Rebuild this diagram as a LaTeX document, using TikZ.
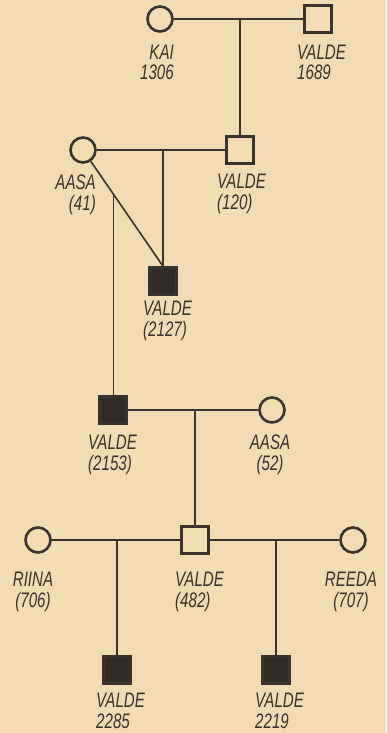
\documentclass[tikz,border=0pt]{standalone}
\usepackage{fontspec}
\newfontfamily\lblfont{Liberation Sans}[FakeStretch=0.72]
\usetikzlibrary{calc}
\definecolor{bg}{RGB}{243,219,180}
\definecolor{ink}{RGB}{58,50,44}
\definecolor{dark}{RGB}{48,43,38}
\begin{document}
\begin{tikzpicture}[x=1pt,y=-1pt,
  fem/.style={circle,draw=ink,line width=2.6pt,minimum size=25pt,inner sep=0pt},
  mal/.style={rectangle,draw=ink,line width=2.6pt,minimum size=27pt,inner sep=0pt},
  aff/.style={mal,fill=dark},
  lbl/.style={text=ink,font=\lblfont\itshape\fontsize{21}{20.5}\selectfont,inner sep=0pt},
  ln/.style={draw=ink,line width=1.6pt}]
\fill[bg] (0,0) rectangle (386,733);
\useasboundingbox (0,0) rectangle (386,733);
% symbols
\node[fem] (kai) at (160,19) {};
\node[mal] (v1689) at (318,19) {};
\node[mal] (v120) at (240,150) {};
\node[fem] (a41) at (83,150) {};
\node[aff] (v2127) at (163,281) {};
\node[aff] (v2153) at (113,410) {};
\node[fem] (a52) at (272,410) {};
\node[fem] (r706) at (38,540) {};
\node[mal] (v482) at (195,540) {};
\node[fem] (r707) at (353,540) {};
\node[aff] (v2285) at (117,670) {};
\node[aff] (v2219) at (276,670) {};
% connectors
\draw[ln] (kai) -- (v1689);
\draw[ln] (v120.north |- kai) -- (v120.north);
\draw[ln] (a41) -- (v120);
\draw[ln] (v2127.north |- a41) -- (v2127.north);
\draw[ln] (a41) -- (v2127.north);
\coordinate (d) at ($(a41)!0.38!(v2127.north)$);
\draw[ln] (d) -- (d |- v2153.north);
\draw[ln] (v2153) -- (a52);
\draw[ln] (v482.north |- v2153) -- (v482.north);
\draw[ln] (r706) -- (v482);
\draw[ln] (v482) -- (r707);
\draw[ln] (v2285.north |- r706) -- (v2285.north);
\draw[ln] (v2219.north |- r707) -- (v2219.north);
% labels (base anchor = baseline of last line)
\node[lbl,anchor=base east,align=right] (t1) at (174,80) {KAI\\1306};
\node[lbl,anchor=base west,align=left] (t2) at (297,80) {VALDE\\1689};
\node[lbl,anchor=base east,align=right] (t3) at (96,210) {AASA\\(41)};
\node[lbl,anchor=base west,align=left] (t4) at (217,209) {VALDE\\(120)};
\node[lbl,anchor=base west,align=left] (t5) at (143,336) {VALDE\\(2127)};
\node[lbl,anchor=base west,align=left] (t6) at (88,470) {VALDE\\(2153)};
\node[lbl,anchor=base,align=center] (t7) at (270,470) {AASA\\(52)};
\node[lbl,anchor=base,align=center] (t8) at (33,607) {RIINA\\(706)};
\node[lbl,anchor=base west,align=left] (t9) at (175,607) {VALDE\\(482)};
\node[lbl,anchor=base,align=center] (t10) at (351,607) {REEDA\\(707)};
\node[lbl,anchor=base west,align=left] (t11) at (96,728) {VALDE\\2285};
\node[lbl,anchor=base west,align=left] (t12) at (255,728) {VALDE\\2219};
\end{tikzpicture}
\end{document}
